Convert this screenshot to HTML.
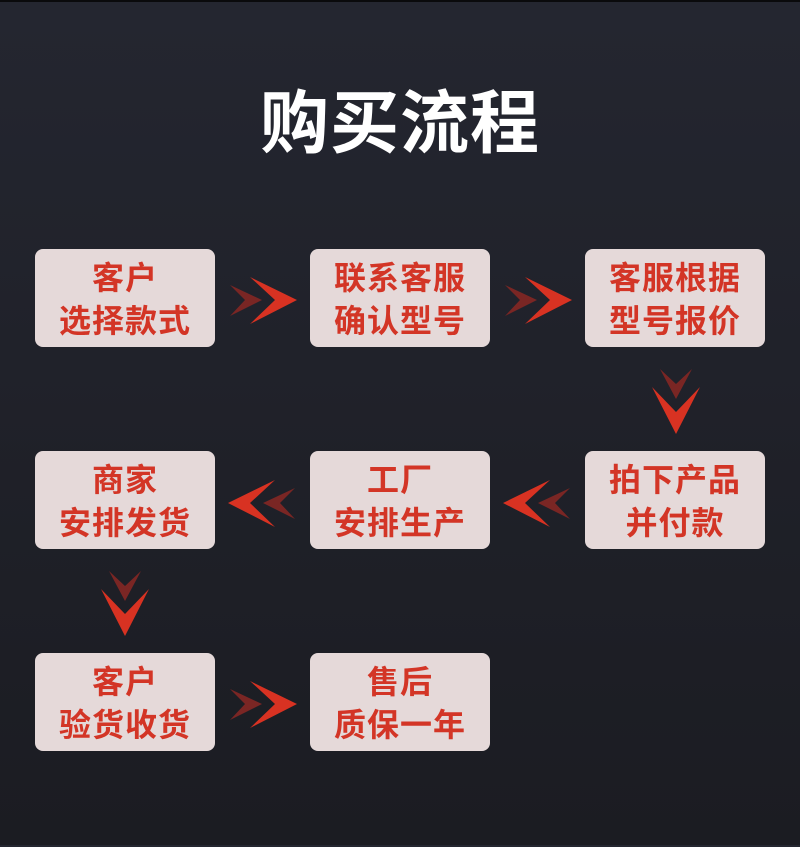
<!DOCTYPE html>
<html><head><meta charset="utf-8"><style>
html,body{margin:0;padding:0}
body{width:800px;height:845px;position:relative;overflow:hidden;background:linear-gradient(#242630,#1b1c22);border-top:2px solid #0a0a0c;box-sizing:border-box;font-family:"Liberation Sans","Noto Sans CJK SC",sans-serif}
.t{position:absolute;left:0;width:800px;top:82px;text-align:center;color:#fff;font-size:69px;font-weight:bold;line-height:80px;letter-spacing:1px}
.b{position:absolute;width:180px;height:98px;box-sizing:border-box;padding-top:4px;background:#e5d9d9;border-radius:8px;color:#d33526;font-weight:bold;font-size:32px;line-height:43px;text-align:center;display:flex;flex-direction:column;justify-content:center;letter-spacing:1px}
svg{position:absolute;left:0;top:0}
</style></head><body>
<div class="t">购买流程</div>
<div class="b" style="left:35px;top:247px">客户<br>选择款式</div>
<div class="b" style="left:310px;top:247px">联系客服<br>确认型号</div>
<div class="b" style="left:585px;top:247px">客服根据<br>型号报价</div>
<div class="b" style="left:35px;top:449px">商家<br>安排发货</div>
<div class="b" style="left:310px;top:449px">工厂<br>安排生产</div>
<div class="b" style="left:585px;top:449px">拍下产品<br>并付款</div>
<div class="b" style="left:35px;top:651px">客户<br>验货收货</div>
<div class="b" style="left:310px;top:651px">售后<br>质保一年</div>
<svg width="800" height="845">
<defs>
<g id="r"><polygon points="0,-15 32,0 0,16 15,0" fill="#7a2624"/><polygon points="20,-23 67,0 20,24 45,0" fill="#d83222"/></g>
</defs>
<use href="#r" x="230" y="298"/>
<use href="#r" x="505" y="298"/>
<use href="#r" x="230" y="702"/>
<g transform="translate(800,0) scale(-1,1)"><use href="#r" x="230" y="501"/><use href="#r" x="505" y="501"/></g>
<g transform="translate(676,367)"><polygon points="-16,0 0,30 16,0 0,15" fill="#7a2624"/><polygon points="-24,18 0,65 24,18 0,43" fill="#d83222"/></g>
<g transform="translate(125,569)"><polygon points="-16,0 0,30 16,0 0,15" fill="#7a2624"/><polygon points="-24,18 0,65 24,18 0,43" fill="#d83222"/></g>
</svg>
</body></html>
